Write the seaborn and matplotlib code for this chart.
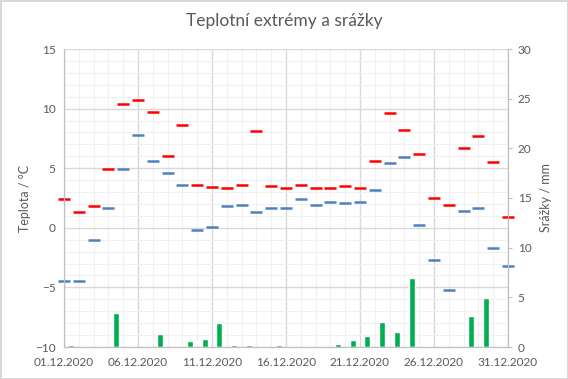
import numpy as np
import pandas as pd
import matplotlib
matplotlib.use("Agg")
import matplotlib.pyplot as plt
import seaborn as sns

# =========================
# DATA
# =========================

days = list(range(1, 32))

t_max = [2.4, 1.3, 1.8, 4.9, 10.4, 10.7, 9.7, 6.0, 8.6, 3.6,
         3.4, 3.3, 3.6, 8.1, 3.5, 3.3, 3.6, 3.3, 3.3, 3.5,
         3.3, 5.6, 9.6, 8.2, 6.2, 2.5, 1.9, 6.7, 7.7, 5.5, 0.9]

t_min = [-4.5, -4.5, -1.0, 1.7, 4.9, 7.8, 5.6, 4.6, 3.6, -0.2,
         0.1, 1.8, 1.9, 1.3, 1.7, 1.7, 2.4, 1.9, 2.2, 2.1,
         2.2, 3.2, 5.4, 5.9, 0.2, -2.7, -5.2, 1.4, 1.7, -1.7, -3.2]

precip = [0.2, 0.0, 0.0, 3.4, 0.0, 0.0, 1.3, 0.0, 0.6, 0.8,
          2.4, 0.2, 0.2, 0.0, 0.2, 0.0, 0.0, 0.0, 0.3, 0.7,
          1.1, 2.5, 1.5, 6.9, 0.1, 0.0, 0.0, 3.1, 4.9, 0.0, 0.3]

tick_days = [1, 6, 11, 16, 21, 26, 31]
tick_labels = ["01.12.2020", "06.12.2020", "11.12.2020", "16.12.2020",
               "21.12.2020", "26.12.2020", "31.12.2020"]

df = pd.DataFrame({"day": days, "tmax": t_max, "tmin": t_min, "precip": precip})
# bars sit half a day to the right of the temperature marks
df["bar_pos"] = df["day"] + 0.5

# =========================
# STYLE
# =========================

sns.set_theme(style="white")
plt.rcParams["font.family"] = ["Lato", "DejaVu Sans"]

TXT = "#595959"
GRID_MAJ = "#d9d9d9"
GRID_MIN = "#f0f0f0"

fig = plt.figure(figsize=(5.68, 3.79), dpi=100)
fig.patch.set_facecolor("white")
fig.patch.set_edgecolor("#d9d9d9")
fig.patch.set_linewidth(2)

ax = fig.add_axes([64 / 568, 1 - 347 / 379, 444 / 568, 298 / 379])
ax2 = ax.twinx()

# =========================
# TEMPERATURES
# =========================

sns.scatterplot(data=df, x="day", y="tmax", marker="_", s=80, linewidth=1.8,
                color="#ff0000", ax=ax, clip_on=False, zorder=3, legend=False)
sns.scatterplot(data=df, x="day", y="tmin", marker="_", s=80, linewidth=1.8,
                color="#4f81bd", ax=ax, clip_on=False, zorder=3, legend=False)

# =========================
# PRECIPITATION
# =========================

sns.barplot(data=df, x="bar_pos", y="precip", native_scale=True, width=0.4,
            color="#00b050", saturation=1, ax=ax2, zorder=2)

# =========================
# AXES
# =========================

ax.set_xlim(1, 31)
ax.set_ylim(-10, 15)
ax2.set_ylim(0, 30)

ax.set_xticks(tick_days)
ax.set_xticklabels(tick_labels)
ax.set_xticks(days, minor=True)
ax.set_yticks(np.arange(-10, 16, 5))
ax.set_yticks(np.arange(-10, 16, 1), minor=True)
ax2.set_yticks(np.arange(0, 31, 5))

ax.grid(which="major", color=GRID_MAJ, linewidth=1)
ax.grid(which="minor", color=GRID_MIN, linewidth=0.8)
ax.set_axisbelow(True)
ax2.grid(False)

ax.tick_params(axis="both", which="both", length=0, colors=TXT, labelsize=8.5)
ax.tick_params(axis="x", pad=7)
ax.tick_params(axis="y", pad=6)
ax2.tick_params(axis="y", length=3, width=0.8, color="#bfbfbf", colors=TXT,
                labelsize=8.5, pad=4)
ax2.tick_params(axis="y", color="#bfbfbf")

for a in (ax, ax2):
    a.spines["top"].set_visible(False)
    for side in ("left", "right", "bottom"):
        a.spines[side].set_color("#bfbfbf")
        a.spines[side].set_linewidth(0.8)

ax.set_xlabel("")
ax.set_ylabel("Teplota / °C", color=TXT, fontsize=9, labelpad=3)
ax2.set_xlabel("")
ax2.set_ylabel("Srážky / mm", color=TXT, fontsize=9, labelpad=6)

fig.text(0.5, 1 - 21 / 379, "Teplotní extrémy a srážky", ha="center",
         va="center", color=TXT, fontsize=12.5)

fig.savefig("out.png", dpi=100, facecolor=fig.get_facecolor(),
            edgecolor=fig.get_edgecolor())
